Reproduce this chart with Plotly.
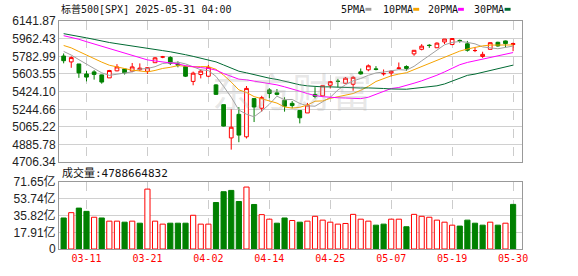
import numpy as np
import plotly.graph_objects as go

dates = ["03-06","03-07","03-10","03-11","03-12","03-13","03-14","03-17","03-18","03-19","03-20","03-21",
         "03-24","03-25","03-26","03-27","03-28","03-31","04-01","04-02","04-03","04-04","04-07","04-08",
         "04-09","04-10","04-11","04-14","04-15","04-16","04-17","04-21","04-22","04-23","04-24","04-25",
         "04-28","04-29","04-30","05-01","05-02","05-05","05-06","05-07","05-08","05-09","05-12","05-13",
         "05-14","05-15","05-16","05-19","05-20","05-21","05-22","05-23","05-27","05-28","05-29","05-30"]

open_ = [5785.87, 5726.01, 5705.37, 5603.65, 5624.84, 5594.45, 5563.85, 5635.60, 5654.53, 5632.37, 5646.92, 5630.73,
         5718.08, 5775.88, 5771.66, 5705.00, 5679.05, 5527.91, 5597.53, 5580.76, 5492.74, 5292.14, 4953.79, 5193.57,
         4965.28, 5353.15, 5255.56, 5441.96, 5411.99, 5335.75, 5305.45, 5232.94, 5207.67, 5395.93, 5381.38, 5489.40,
         5529.22, 5508.87, 5499.44, 5625.14, 5645.94, 5655.32, 5605.88, 5614.00, 5660.01, 5679.63, 5807.66, 5854.22,
         5895.69, 5869.97, 5929.09, 5902.88, 5944.66, 5910.14, 5841.26, 5781.89, 5854.07, 5925.54, 5939.25, 5903.67]
high = [5812.08, 5783.01, 5705.37, 5636.30, 5642.19, 5597.78, 5645.27, 5703.52, 5654.53, 5715.33, 5711.15, 5670.84,
        5775.14, 5786.95, 5783.62, 5732.28, 5685.89, 5627.56, 5650.57, 5695.31, 5499.53, 5292.14, 5246.57, 5267.47,
        5481.34, 5353.15, 5381.46, 5459.46, 5450.41, 5367.24, 5328.31, 5232.94, 5309.60, 5469.69, 5486.24, 5528.11,
        5553.66, 5571.95, 5581.84, 5658.91, 5700.70, 5683.33, 5649.18, 5643.63, 5720.10, 5691.68, 5844.19, 5906.63,
        5906.63, 5924.81, 5958.62, 5968.61, 5953.06, 5939.59, 5878.08, 5829.51, 5924.33, 5930.61, 5943.13, 5922.14]
low = [5711.64, 5666.29, 5564.02, 5528.41, 5546.09, 5504.65, 5563.85, 5631.12, 5597.76, 5622.20, 5632.66, 5603.10,
       5718.08, 5764.10, 5694.41, 5670.94, 5572.42, 5488.73, 5558.52, 5571.48, 5390.83, 5069.90, 4835.04, 4910.42,
       4948.43, 5115.27, 5220.77, 5358.02, 5386.44, 5220.79, 5255.58, 5101.63, 5207.67, 5356.42, 5371.61, 5455.86,
       5468.64, 5505.70, 5433.24, 5597.35, 5631.13, 5640.42, 5586.57, 5579.04, 5650.60, 5635.55, 5788.83, 5843.66,
       5868.88, 5867.44, 5907.88, 5895.69, 5921.58, 5830.71, 5825.82, 5767.41, 5854.07, 5881.57, 5873.80, 5835.00]
close = [5738.52, 5770.20, 5614.56, 5572.07, 5599.30, 5521.52, 5638.94, 5675.12, 5614.66, 5675.29, 5662.89, 5667.56,
         5767.57, 5776.65, 5712.20, 5693.31, 5580.94, 5611.85, 5633.07, 5670.97, 5396.52, 5074.08, 5062.25, 4982.77,
         5456.90, 5268.05, 5363.36, 5405.97, 5396.63, 5275.70, 5282.70, 5158.20, 5287.76, 5375.86, 5484.77, 5525.21,
         5528.75, 5560.83, 5569.06, 5604.14, 5686.67, 5650.38, 5606.91, 5631.28, 5663.94, 5659.91, 5844.19, 5886.55,
         5892.58, 5916.93, 5958.38, 5963.60, 5940.46, 5844.61, 5842.01, 5802.82, 5921.54, 5888.55, 5912.17, 5911.69]
# closes of the 29 sessions before the first candle (needed for the moving averages)
prior_close = [6118.71, 6101.24, 6012.28, 6067.70, 6039.31, 6071.17, 6040.53, 5994.57, 6037.88, 6061.48,
               6083.57, 6025.99, 6066.44, 6068.50, 6051.97, 6115.07, 6114.63, 6129.58, 6144.15, 6117.52,
               6013.13, 5983.25, 5955.25, 5956.06, 5861.57, 5954.50, 5849.72, 5778.15, 5842.63]
# volume in 亿 (1e8)
volume = [33.3, 39.0, 43.9, 40.4, 34.1, 33.3, 29.9, 29.9, 28.8, 29.9, 27.7, 64.3, 29.9, 26.7, 27.7, 27.7, 27.7, 36.2, 26.7, 26.7,
          49.9, 61.5, 62.9, 51.0, 66.5, 47.8, 36.9, 32.0, 27.7, 33.3, 30.6, 28.8, 29.9, 35.1, 31.0, 28.8, 26.7, 27.4, 37.2, 32.0,
          29.9, 25.6, 26.7, 32.0, 32.0, 23.9, 37.2, 35.1, 34.1, 31.0, 28.8, 25.6, 24.6, 31.0, 27.7, 25.6, 28.8, 25.6, 27.7, 47.89]
last_volume = 4788664832

price_ticks = [4706.34, 4885.78, 5065.22, 5244.66, 5424.10, 5603.55, 5782.99, 5962.43, 6141.87]
vol_ticks = [0, 17.91, 35.82, 53.74, 71.65]
vol_ticktext = ["0", "17.91亿", "35.82亿", "53.74亿", "71.65亿"]
date_tick_idx = [3, 11, 19, 27, 35, 43, 51, 59]
ma_periods = [5, 10, 20, 30]
ma_colors = ["#a0a0a0", "#f5a300", "#ff00ff", "#006a33"]
title_text = "标普500[SPX] 2025-05-31 04:00"

RED = "#ff0000"
GREEN = "#008000"

x = list(range(len(dates)))
allc = np.array(prior_close + close)
k = len(prior_close)

fig = go.Figure()

fig.add_trace(go.Candlestick(
    x=x, open=open_, high=high, low=low, close=close,
    increasing=dict(line=dict(color=RED, width=1), fillcolor="white"),
    decreasing=dict(line=dict(color=GREEN, width=1), fillcolor=GREEN),
    whiskerwidth=0, hoverinfo="skip", showlegend=False, xaxis="x", yaxis="y"))

for n, col in zip(ma_periods, ma_colors):
    ma = [allc[k + i - n + 1:k + i + 1].mean() for i in x]
    fig.add_trace(go.Scatter(x=x, y=ma, mode="lines", line=dict(color=col, width=1),
                             hoverinfo="skip", showlegend=False, xaxis="x", yaxis="y"))

prev = [prior_close[-1]] + close[:-1]
up = [c >= p for c, p in zip(close, prev)]
fig.add_trace(go.Bar(
    x=x, y=volume, width=0.68,
    marker=dict(color=["white" if u else GREEN for u in up],
                line=dict(color=[RED if u else GREEN for u in up], width=1)),
    hoverinfo="skip", showlegend=False, xaxis="x2", yaxis="y2"))

W, H = 578, 276
ML, MR, MT, MB = 56, 56, 21, 21
PW, PH = W - ML - MR, H - MT - MB

def px2x(px):
    return (px - ML) / PW

def px2y(py):
    return (H - MB - py) / PH

xr = [-0.61, 60.17]
axis_common = dict(range=xr, tickvals=date_tick_idx, showgrid=True, gridcolor="#cccccc",
                   griddash="dash", gridwidth=1, zeroline=False, showline=True, linecolor="#999999",
                   mirror=True, ticks="", fixedrange=True)

fig.update_layout(
    width=W, height=H, margin=dict(l=ML, r=MR, t=MT, b=MB),
    paper_bgcolor="white", plot_bgcolor="white", showlegend=False,
    boxgap=0.3,
    xaxis=dict(domain=[0, 1], anchor="y", showticklabels=False,
               rangeslider=dict(visible=False), **axis_common),
    xaxis2=dict(domain=[0, 1], anchor="y2", ticktext=[dates[i] for i in date_tick_idx],
                tickfont=dict(family="DejaVu Sans Mono", size=10, color=RED), **axis_common),
    yaxis=dict(domain=[px2y(166), 1], range=[price_ticks[0], price_ticks[-1]], tickvals=price_ticks,
               ticktext=["%.2f" % v for v in price_ticks], showgrid=True, gridcolor="#d0d0d0",
               zeroline=False, showline=True, linecolor="#999999", mirror=True, ticks="",
               tickfont=dict(family="Liberation Sans", size=12, color="#222222"), fixedrange=True),
    yaxis2=dict(domain=[0, px2y(186.5)], range=[0, vol_ticks[-1]], tickvals=vol_ticks,
                ticktext=vol_ticktext, showgrid=True, gridcolor="#d0d0d0",
                zeroline=False, showline=True, linecolor="#999999", mirror=True, ticks="",
                tickfont=dict(family="Liberation Sans, Noto Sans CJK SC", size=12, color="#222222"),
                fixedrange=True),
)

mono = "DejaVu Sans Mono, Noto Sans CJK SC"
ann = [
    dict(text="东方财富", x=px2x(291), y=px2y(92), xref="paper", yref="paper", showarrow=False,
         font=dict(family="Noto Sans CJK SC", size=40, color="rgba(175,175,175,0.30)"),
         xanchor="center", yanchor="middle"),
    dict(text=title_text, x=px2x(56), y=px2y(9), xref="paper", yref="paper",
         showarrow=False, font=dict(family=mono, size=10, color="#111111"), xanchor="left", yanchor="middle"),
    dict(text="成交量:%d" % last_volume, x=px2x(57), y=px2y(177),
         xref="paper", yref="paper", showarrow=False,
         font=dict(family=mono, size=11, color="#111111"), xanchor="left", yanchor="middle"),
]
legend_x = [338, 380, 425, 472]
for n, col, lx in zip(ma_periods, ma_colors, legend_x):
    label = "%dPMA" % n
    ann.append(dict(text=label, x=px2x(lx), y=px2y(9), xref="paper", yref="paper", showarrow=False,
                    font=dict(family=mono, size=10, color="#111111"), xanchor="left", yanchor="middle"))
fig.update_layout(annotations=ann)

shapes = []
for n, col, lx in zip(ma_periods, ma_colors, legend_x):
    sx = lx + len("%dPMA" % n) * 6.1 + 2
    shapes.append(dict(type="rect", xref="paper", yref="paper", x0=px2x(sx), x1=px2x(sx + 6),
                       y0=px2y(10.5), y1=px2y(7.5), line=dict(width=0), fillcolor=col))
fig.update_layout(shapes=shapes)

fig.write_html("out.html")
